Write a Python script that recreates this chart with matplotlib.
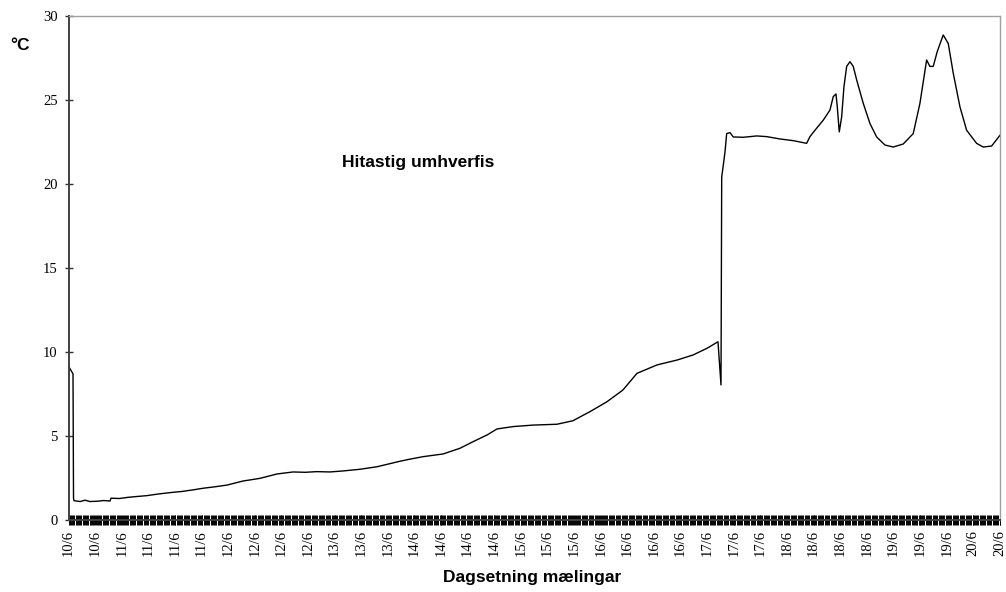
import numpy as np
import matplotlib
matplotlib.use("Agg")
from matplotlib import pyplot as plt

# time in hours from the first reading, temperature in deg C
hours = [0.0, 0.13, 0.64, 1.15, 1.28, 1.41, 3.0, 4.2, 5.49, 7.5, 9.0, 10.6, 10.86,
         13.0, 15.2, 17.5, 20.0, 23.0, 25.93, 29.0, 32.0, 34.36, 37.5, 40.5,
         44.58, 48.93, 53.27, 57.36, 60.5, 63.49, 66.8, 70.13, 74.48, 78.82,
         84.19, 86.74, 90.58, 95.69, 100.03, 103.35, 106.93, 109.49, 113.57,
         118.68, 124.81, 128.9, 133.24, 137.59, 141.67, 145.25, 150.36, 155.47,
         159.56, 163.14, 165.95, 166.72, 166.9, 167.74, 168.17, 169.01, 169.86,
         172.41, 175.84, 178.39, 181.79, 185.19, 188.6, 189.45, 190.73, 192.85,
         194.56, 195.4, 196.1, 196.43, 196.94, 197.55, 198.14, 198.83, 199.67,
         200.51, 201.38, 203.07, 204.78, 206.49, 208.61, 210.73, 213.28, 215.84,
         217.55, 219.26, 220.1, 220.95, 221.97, 223.5, 224.78, 226.06, 227.77,
         229.48, 232.03, 233.72, 235.87, 238.0]
temps = [9.3, 9.1, 8.9, 8.7, 1.3, 1.15, 1.1, 1.18, 1.1, 1.12, 1.16, 1.13, 1.3,
         1.28, 1.35, 1.4, 1.45, 1.55, 1.63, 1.7, 1.8, 1.89, 1.98, 2.08,
         2.32, 2.48, 2.74, 2.86, 2.84, 2.88, 2.86, 2.92, 3.02, 3.17,
         3.47, 3.6, 3.77, 3.93, 4.27, 4.66, 5.06, 5.42, 5.56,
         5.65, 5.7, 5.91, 6.45, 7.04, 7.74, 8.73, 9.23, 9.52,
         9.82, 10.22, 10.61, 8.04, 20.4, 21.9, 23.0, 23.06, 22.8,
         22.78, 22.86, 22.82, 22.68, 22.58, 22.42, 22.82, 23.2, 23.8,
         24.4, 25.2, 25.36, 24.6, 23.1, 24.0, 25.8, 27.0, 27.28,
         27.0, 26.2, 24.8, 23.6, 22.8, 22.32, 22.2, 22.38, 23.0,
         24.8, 27.38, 27.0, 27.0, 27.88, 28.87, 28.37, 26.6, 24.6,
         23.2, 22.42, 22.2, 22.26, 22.9]

date_labels = ["10/6", "10/6",
               "11/6", "11/6", "11/6", "11/6",
               "12/6", "12/6", "12/6", "12/6",
               "13/6", "13/6", "13/6",
               "14/6", "14/6", "14/6", "14/6",
               "15/6", "15/6", "15/6",
               "16/6", "16/6", "16/6", "16/6",
               "17/6", "17/6", "17/6",
               "18/6", "18/6", "18/6", "18/6",
               "19/6", "19/6", "19/6",
               "20/6", "20/6"]
label_step = 6.8      # hours between labelled readings
sample_step = 0.3     # hours between readings (one tick each)

serif = "Liberation Serif"
sans = "Liberation Sans"

fig = plt.figure(figsize=(10.06, 5.92), dpi=100)
ax = fig.add_axes([0.0681, 0.1216, 0.9259, 0.8514])

ax.plot(hours, temps, color="black", lw=1.0)

t_end = label_step * (len(date_labels) - 1)
ax.set_xlim(0, t_end)
ax.set_ylim(0, 30)

ax.set_yticks(np.arange(0, 31, 5))
ax.set_yticklabels([str(v) for v in range(0, 31, 5)], fontfamily=serif, fontsize=10.5)
ax.set_xticks(np.arange(len(date_labels)) * label_step)
ax.set_xticklabels(date_labels, rotation=90, fontfamily=serif, fontsize=10.5)
ax.set_xticks(np.arange(0, t_end, sample_step), minor=True)

ax.tick_params(axis="y", direction="inout", length=5.5, width=1.0, color="#303030", pad=5)
ax.tick_params(axis="x", which="major", direction="inout", length=7, width=0.7,
               color="black", pad=3.7)
ax.tick_params(axis="x", which="minor", direction="inout", length=7, width=0.7,
               color="black")

ax.spines["left"].set_color("#404040")
ax.spines["left"].set_linewidth(1.4)
ax.spines["bottom"].set_color("#404040")
ax.spines["bottom"].set_linewidth(1.4)
for s in ("top", "right"):
    ax.spines[s].set_color("#a0a0a0")
    ax.spines[s].set_linewidth(1.0)

fig.text(10 / 1006, 1 - 49.5 / 592, "°C", fontfamily=sans, fontweight="bold",
         fontsize=12.5, va="baseline", ha="left")
fig.text(342 / 1006, 1 - 166.5 / 592, "Hitastig umhverfis", fontfamily=sans,
         fontweight="bold", fontsize=12.5, va="baseline", ha="left")
fig.text(532 / 1006, 1 - 582 / 592, "Dagsetning mælingar", fontfamily=sans,
         fontweight="bold", fontsize=12.5, va="baseline", ha="center")

fig.savefig("out.png", dpi=100)
